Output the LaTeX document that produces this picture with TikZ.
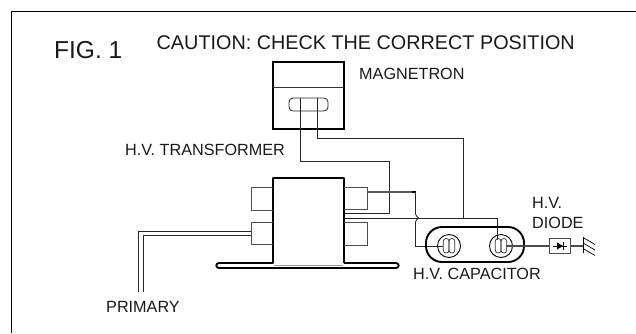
\documentclass[tikz,border=0pt]{standalone}
\usepackage{fontspec}
\setmainfont{Liberation Sans}
\tikzset{
  wire/.style={line width=0.9pt,draw=black!80},
  thin wire/.style={line width=0.8pt,draw=black!85},
  heavy/.style={line width=1.9pt,draw=black},
  lab/.style={anchor=base west,inner sep=0pt,font=\fontsize{16.2}{16}\selectfont,text=black!90},
  term/.style={line width=1pt,draw=black!70},
}
\begin{document}
\begin{tikzpicture}[x=1pt,y=-1pt]
\useasboundingbox (0,0) rectangle (636,333);
% frame
\coordinate (fa) at (11.5,333); \coordinate (fb) at (11.5,11.5); \coordinate (fc) at (636,11.5);
\draw[line width=1.2pt] (fa) -- (fb) -- (fc);
% labels
\node[lab,font=\fontsize{24.5}{24}\selectfont] (fig) at (54,58) {FIG. 1};
\node[lab,font=\fontsize{19.8}{20}\selectfont] (caution) at (156.5,49) {CAUTION: CHECK THE CORRECT POSITION};
\node[lab] (magn) at (359,79) {MAGNETRON};
\node[lab] (hvt) at (125,155) {H.V. TRANSFORMER};
\node[lab] (hv) at (532,208) {H.V.};
\node[lab] (diode) at (532,228) {DIODE};
\node[lab] (hvc) at (413,279) {H.V. CAPACITOR};
\node[lab] (prim) at (106,312) {PRIMARY};
% magnetron
\draw[heavy] (273,62) rectangle (344,129);
\draw[wire] (273,87) -- (344,87);
\draw[thin wire,rounded corners=4pt] (289,98) rectangle (328,111);
% magnetron wires
\coordinate (m1) at (300,98); \coordinate (m2) at (317,98);
\coordinate (t1) at (344,213); \coordinate (t2) at (344,218);
\draw[thin wire] (m1) -- (300,161) -- (389,161) -- (389,213) -- (t1);
\draw[thin wire] (m2) -- (317,138) -- (463,138) -- (463,218);
% transformer
\draw[heavy,line join=round] (344,263) -- (344,178) -- (273,178) -- (273,263) -- (219,263)
  .. controls (215.5,263) and (215.5,268) .. (219,268) -- (396,268)
  .. controls (399.5,268) and (399.5,263) .. (396,263) -- (344,263);
\draw[line width=0.8pt,draw=black!40] (274,265.5) -- (343,265.5);
% terminals
\draw[term] (273,187) -- (251,187) -- (251,210) -- (273,210);
\draw[term] (273,222) -- (251,222) -- (251,244) -- (273,244);
\draw[term] (344,187) -- (367,187) -- (367,209) -- (344,209);
\draw[term] (344,222) -- (367,222) -- (367,245) -- (344,245);
% primary
\coordinate (p1) at (138,292); \coordinate (p2) at (143,292);
\draw[thin wire] (251,231) -- (138,231) -- (p1);
\draw[thin wire] (251,235) -- (143,235) -- (p2);
% wires to capacitor
\draw[thin wire] (t2) -- (497,218) -- (497,240);
\draw[line width=1.1pt,draw=black!65] (367,192) -- (412,192);
\draw[line width=1.4pt] (412,192) -- (415.5,192);
\draw[thin wire] (415.5,192) -- (415.5,214) .. controls (415.5,217) and (418,216) .. (418.5,218) .. controls (418,220) and (415.5,219) .. (415.5,222) -- (415.5,246.5) -- (443,246.5);
% capacitor
\draw[heavy,rounded corners=16pt] (426,227) rectangle (524,262);
\foreach \c in {449,501}{
  \draw[line width=0.9pt] (\c,246) circle[radius=11.5];
  \draw[line width=0.7pt,draw=black!80,rounded corners=2.7pt] (\c-5.7,238.5) rectangle (\c,253);
  \draw[line width=0.7pt,draw=black!80,rounded corners=2.7pt] (\c,238.5) rectangle (\c+5.7,253);
}
% diode and ground
\draw[line width=1.2pt,draw=black!70] (506,246) -- (549,246);
\draw[line width=1.2pt,draw=black!70] (570,246) -- (583,246);
\draw[line width=1pt,draw=black!70] (549,238) rectangle (570,253);
\fill (557,242.5) -- (563,246) -- (557,249.5) -- cycle;
\draw[line width=0.7pt] (553,246) -- (567,246);
\draw[line width=1pt] (563.5,242) -- (563.5,250);
\draw[line width=0.8pt] (583,237) -- (583,253);
\draw[line width=0.7pt] (583,237.5) -- (595,244.5) (583,243) -- (595,250) (583,248.5) -- (595,255.5);
\end{tikzpicture}
\end{document}
